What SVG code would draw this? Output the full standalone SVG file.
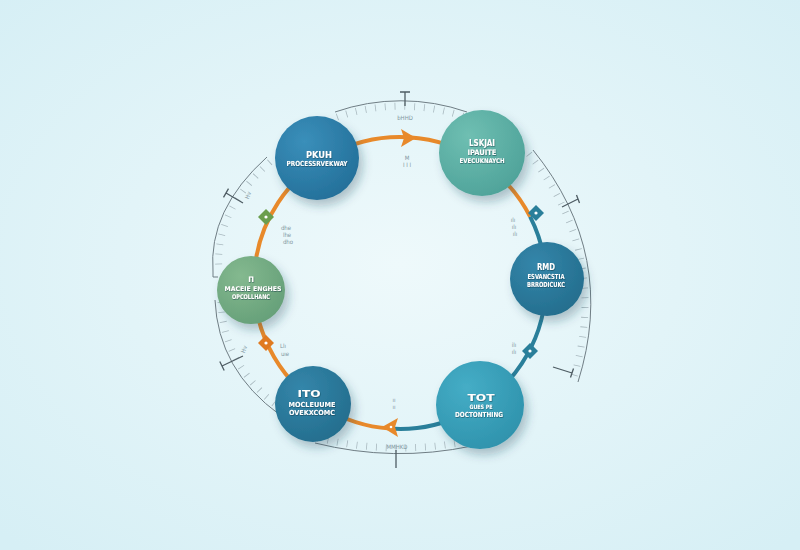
<svg xmlns="http://www.w3.org/2000/svg" width="800" height="550" viewBox="0 0 800 550">
<defs>
<radialGradient id="bg" cx="50%" cy="48%" r="70%">
<stop offset="0" stop-color="#eef9fb"/>
<stop offset="1" stop-color="#d6eff5"/>
</radialGradient>
<radialGradient id="gBlue" cx="35%" cy="30%" r="75%">
<stop offset="0" stop-color="#3a8fba"/>
<stop offset="1" stop-color="#24709a"/>
</radialGradient>
<radialGradient id="gTeal" cx="35%" cy="30%" r="75%">
<stop offset="0" stop-color="#6fbfb2"/>
<stop offset="1" stop-color="#4fa39a"/>
</radialGradient>
<radialGradient id="gDeep" cx="35%" cy="30%" r="75%">
<stop offset="0" stop-color="#3486aa"/>
<stop offset="1" stop-color="#246e8e"/>
</radialGradient>
<radialGradient id="gCyan" cx="35%" cy="30%" r="75%">
<stop offset="0" stop-color="#45adc6"/>
<stop offset="1" stop-color="#2f93ad"/>
</radialGradient>
<radialGradient id="gGreen" cx="35%" cy="30%" r="75%">
<stop offset="0" stop-color="#84b98f"/>
<stop offset="1" stop-color="#66a079"/>
</radialGradient>
<filter id="sh" x="-40%" y="-40%" width="190%" height="190%">
<feDropShadow dx="4" dy="6" stdDeviation="5" flood-color="#1d4a5a" flood-opacity="0.3"/>
</filter>
<filter id="tsh" x="-20%" y="-50%" width="140%" height="200%">
<feDropShadow dx="0.5" dy="0.8" stdDeviation="0.6" flood-color="#0d3040" flood-opacity="0.6"/>
</filter>
<style>
.scale{fill:none;stroke:#6f7d84;stroke-width:1}
.ticks{fill:none;stroke:#a9b9bf;stroke-width:7;stroke-dasharray:0.8 9}
.tmark{stroke:#4e5c63;stroke-width:1.3;fill:none}
.lbl{font-family:"DejaVu Sans Condensed","Liberation Sans Narrow","Liberation Sans",sans-serif;font-weight:bold;fill:#ffffff;text-anchor:middle}
.tiny{font-family:"DejaVu Sans Condensed","Liberation Sans",sans-serif;font-size:6px;fill:#7f979f;text-anchor:middle}
</style>
</defs>
<rect width="800" height="550" fill="url(#bg)"/>

<g id="scale">
<path class="scale" d="M335,112 A200,200 0 0 1 467,112"/>
<path class="ticks" d="M337,117 A195,195 0 0 1 465,117"/>
<path class="tmark" d="M405,92 L405,106 M400,92 L410,92"/>
<text class="tiny" x="405" y="120">bHHD</text>

<path class="scale" d="M267,157 Q208,210 213,272 L213,277 L218,277"/>
<path class="ticks" d="M270,162 Q214,212 219,270"/>
<path class="tmark" d="M226,193 L243,203 M223.5,197.3 L228.5,188.7"/>

<path class="scale" d="M215,300 Q218,370 280,415"/>
<path class="ticks" d="M221,302 Q224,368 283,410"/>
<path class="tmark" d="M222,366 L243,356 M219.8,361.5 L224.2,370.5"/>

<path class="scale" d="M533,150 Q618,255 578,382"/>
<path class="ticks" d="M529,154 Q611,255 573,380"/>
<path class="tmark" d="M562,207 L578,199 M576.5,195 L579.5,203"/>
<path class="tmark" d="M553,367 L572,373 M573.5,368.5 L570.5,377.5"/>

<path class="scale" d="M315,443 A350,350 0 0 0 472,446"/>
<path class="ticks" d="M318,438 A345,345 0 0 0 469,441"/>
<path class="tmark" d="M396,450 L396,468"/>
<text class="tiny" x="397" y="449">MMHKD</text>
</g>

<g id="connectors">
<path d="M389.8,428.6 A146,146 0 1 1 530.1,216.7" fill="none" stroke="#e8892a" stroke-width="4"/>
<path d="M530.1,216.7 A146,146 0 0 1 389.8,428.6" fill="none" stroke="#2a7f9a" stroke-width="4"/>
<path d="M401,129 L416,138 L401,147 L404,138 Z" fill="#e8892a"/>
<path d="M398,418 L382,427 L398,437 L395,427 Z" fill="#e8892a"/>
<circle cx="391" cy="427" r="1.3" fill="#fff"/>
<path d="M536,205 L544,213 L536,221 L528,213 Z" fill="#2a7f9a"/>
<circle cx="536" cy="213" r="1.6" fill="#fff"/>
<path d="M530,343 L538,351 L530,359 L522,351 Z" fill="#2a7f9a"/>
<circle cx="530" cy="351" r="1.6" fill="#fff"/>
<path d="M266,335 L274,343 L266,351 L258,343 Z" fill="#e07a20"/>
<circle cx="266" cy="343" r="1.6" fill="#fff"/>
<path d="M266,209 L274,217 L266,225 L258,217 Z" fill="#6b9e4e"/>
<circle cx="266" cy="217" r="1.6" fill="#fff"/>
<text class="tiny" x="407" y="160">M</text>
<text class="tiny" x="407" y="167">I I I</text>
<text class="tiny" x="394" y="402">ıı</text>
<text class="tiny" x="394" y="409">ıı</text>
<text class="tiny" x="513" y="222">ılı</text>
<text class="tiny" x="514" y="229">ılı</text>
<text class="tiny" x="515" y="236">ılı</text>
<text class="tiny" x="286" y="230">dhe</text>
<text class="tiny" x="287" y="237">lhe</text>
<text class="tiny" x="288" y="244">dho</text>
<text class="tiny" x="283" y="348">Llı</text>
<text class="tiny" x="285" y="356">uıe</text>
<text class="tiny" x="514" y="347">ilı</text>
<text class="tiny" x="514" y="354">ılı</text>
<text class="tiny" x="250" y="196" transform="rotate(-70 250 196)">Hv</text>
<text class="tiny" x="246" y="350" transform="rotate(-70 246 350)">Hv</text>
</g>

<g id="node-top-left" filter="url(#sh)">
<circle cx="317" cy="158" r="42" fill="url(#gBlue)"/>
<g filter="url(#tsh)">
<text class="lbl" x="319" y="158" font-size="9" textLength="26" lengthAdjust="spacingAndGlyphs">PKUH</text>
<text class="lbl" x="317" y="166" font-size="7" textLength="61" lengthAdjust="spacingAndGlyphs">PROCESSRVEKWAY</text>
</g>
</g>

<g id="node-top-right" filter="url(#sh)">
<circle cx="482" cy="153" r="43" fill="url(#gTeal)"/>
<g filter="url(#tsh)">
<text class="lbl" x="482" y="146" font-size="8.5" textLength="26" lengthAdjust="spacingAndGlyphs">LSKJAI</text>
<text class="lbl" x="482" y="155" font-size="7.5" textLength="29" lengthAdjust="spacingAndGlyphs">IPAUITE</text>
<text class="lbl" x="482" y="163" font-size="6.5" textLength="45" lengthAdjust="spacingAndGlyphs">EVECUKNAYCH</text>
</g>
</g>

<g id="node-right" filter="url(#sh)">
<circle cx="547" cy="279" r="37" fill="url(#gDeep)"/>
<g filter="url(#tsh)">
<text class="lbl" x="546" y="270" font-size="8.5" textLength="18" lengthAdjust="spacingAndGlyphs">RMD</text>
<text class="lbl" x="546" y="278.5" font-size="7" textLength="37" lengthAdjust="spacingAndGlyphs">ESVANCSTIA</text>
<text class="lbl" x="546" y="287" font-size="7" textLength="38" lengthAdjust="spacingAndGlyphs">BRRODICUKC</text>
</g>
</g>

<g id="node-bottom-right" filter="url(#sh)">
<circle cx="480" cy="405" r="44" fill="url(#gCyan)"/>
<g filter="url(#tsh)">
<text class="lbl" x="481" y="401" font-size="9" textLength="27" lengthAdjust="spacingAndGlyphs">TOT</text>
<text class="lbl" x="481" y="408.5" font-size="6" textLength="23" lengthAdjust="spacingAndGlyphs">GUES PE</text>
<text class="lbl" x="479" y="416.5" font-size="7" textLength="48" lengthAdjust="spacingAndGlyphs">DOCTONTHING</text>
</g>
</g>

<g id="node-bottom-left" filter="url(#sh)">
<circle cx="313" cy="404" r="38" fill="url(#gDeep)"/>
<g filter="url(#tsh)">
<text class="lbl" x="309" y="397" font-size="9.5" textLength="23" lengthAdjust="spacingAndGlyphs">ITO</text>
<text class="lbl" x="312" y="406.5" font-size="7" textLength="47" lengthAdjust="spacingAndGlyphs">MOCLEUUME</text>
<text class="lbl" x="312" y="415" font-size="7" textLength="46" lengthAdjust="spacingAndGlyphs">OVEKXCOMC</text>
</g>
</g>

<g id="node-left" filter="url(#sh)">
<circle cx="251" cy="290" r="34" fill="url(#gGreen)"/>
<g filter="url(#tsh)">
<text class="lbl" x="251" y="282" font-size="7.5">П</text>
<text class="lbl" x="253" y="290.5" font-size="6.5" textLength="57" lengthAdjust="spacingAndGlyphs">MACEIE ENGHES</text>
<text class="lbl" x="251" y="299" font-size="6.5" textLength="38" lengthAdjust="spacingAndGlyphs">OPCOLLHANC</text>
</g>
</g>
</svg>
